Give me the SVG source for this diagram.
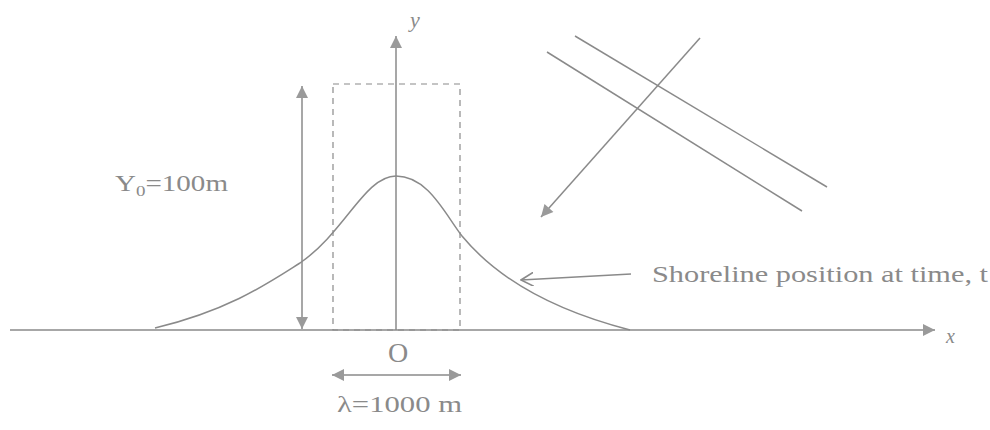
<svg xmlns="http://www.w3.org/2000/svg" width="990" height="430" viewBox="0 0 990 430">
<style>
.ln{stroke:#8a8a8a;stroke-width:1.5;fill:none}
.t{font-family:"Liberation Serif",serif;fill:#8a8a8a}
</style>
<defs>
<marker id="ah" viewBox="0 0 10 10" refX="10" refY="5" markerWidth="15" markerHeight="12" markerUnits="userSpaceOnUse" orient="auto-start-reverse">
<path d="M0,0 L10,5 L0,10 Z" fill="#9a9a9a"/>
</marker>
<marker id="oa" viewBox="0 0 10 10" refX="9" refY="5" markerWidth="14" markerHeight="14" markerUnits="userSpaceOnUse" orient="auto">
<path d="M0,0 L9,5 L0,10" fill="none" stroke="#8a8a8a" stroke-width="1.2"/>
</marker>
</defs>
<g id="connectors">
<line id="x-axis" class="ln" x1="10" y1="330" x2="935" y2="330" marker-end="url(#ah)"/>
<line id="y-axis" class="ln" x1="396" y1="330" x2="396" y2="36" marker-end="url(#ah)"/>
<line id="y0-arrow" class="ln" x1="302" y1="86" x2="302" y2="329" marker-start="url(#ah)" marker-end="url(#ah)"/>
<line id="lambda-arrow" class="ln" x1="332" y1="375" x2="461" y2="375" marker-start="url(#ah)" marker-end="url(#ah)"/>
<line id="shore-arrow" class="ln" x1="631" y1="274" x2="521" y2="280" marker-end="url(#oa)"/>
<line id="wave-arrow" class="ln" x1="700" y1="38" x2="541" y2="217" marker-end="url(#ah)"/>
</g>
<g id="box">
<rect x="333" y="84" width="127" height="246" fill="none" stroke="#8a8a8a" stroke-width="1.2" stroke-dasharray="6,5"/>
</g>
<g id="shoreline">
<path class="ln" d="M155,328 C230,310 270,282 300,263 C345,232 365,176 396,176 C428,176 445,214 462,236 C500,282 560,312 630,330"/>
</g>
<g id="crests">
<line class="ln" x1="575" y1="36" x2="827" y2="187"/>
<line class="ln" x1="547" y1="52" x2="802" y2="211"/>
</g>
<g id="labels">
<text class="t" x="410" y="27" font-size="22" font-style="italic">y</text>
<text class="t" x="946" y="343" font-size="20" font-style="italic">x</text>
<text class="t" x="115" y="191" font-size="23" textLength="113" lengthAdjust="spacingAndGlyphs">Y<tspan font-size="15" dy="5">0</tspan><tspan dy="-5">=100m</tspan></text>
<text class="t" x="652" y="282" font-size="23" textLength="336" lengthAdjust="spacingAndGlyphs">Shoreline position at time, t</text>
<text class="t" x="398" y="362" font-size="28" text-anchor="middle">O</text>
<text class="t" x="337" y="412" font-size="23" textLength="125" lengthAdjust="spacingAndGlyphs">λ=1000 m</text>
</g>
</svg>
